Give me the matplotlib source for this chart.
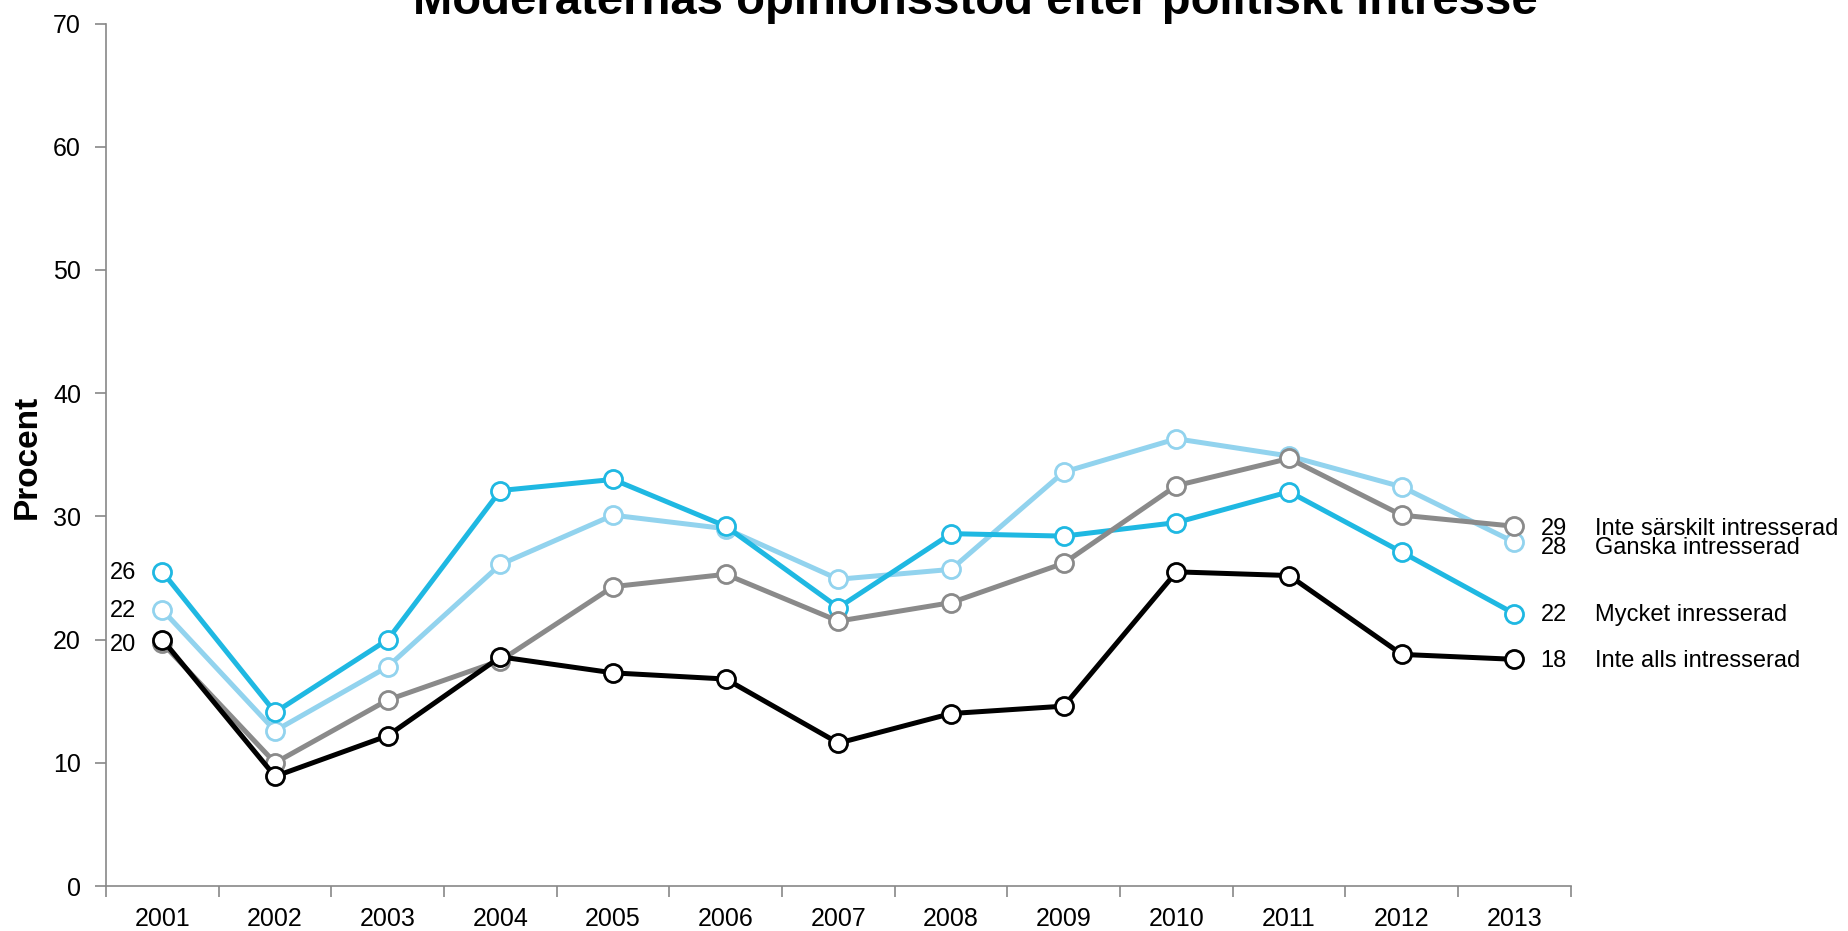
import matplotlib
matplotlib.use("Agg")
import matplotlib.pyplot as plt
import numpy as np

plt.rcParams['font.family'] = ['Liberation Sans', 'DejaVu Sans']

years = ["2001", "2002", "2003", "2004", "2005", "2006", "2007",
         "2008", "2009", "2010", "2011", "2012", "2013"]

# opinionsstöd per grupp (procent)
mycket = [25.5, 14.1, 20.0, 32.1, 33.0, 29.2, 22.6, 28.6, 28.4, 29.5, 32.0, 27.1, 22.1]
ganska = [22.4, 12.6, 17.8, 26.1, 30.1, 29.0, 24.9, 25.7, 33.6, 36.3, 34.9, 32.4, 27.9]
inte_sarskilt = [19.7, 10.0, 15.1, 18.3, 24.3, 25.3, 21.5, 23.0, 26.2, 32.5, 34.7, 30.1, 29.2]
inte_alls = [20.0, 8.9, 12.2, 18.6, 17.3, 16.8, 11.6, 14.0, 14.6, 25.5, 25.2, 18.8, 18.4]

names = ["Ganska intresserad", "Mycket inresserad",
         "Inte särskilt intresserad", "Inte alls intresserad"]
series = [ganska, mycket, inte_sarskilt, inte_alls]
colors = ["#92d3ee", "#1fb8e2", "#8a8a8a", "#000000"]

# etiketter till höger (text, y-läge)
end_text = ["28", "22", "29", "18"]
end_y = [27.4, 22.0, 29.0, 18.3]
# etiketter till vänster
start_text = ["26", "22", "20"]
start_y = [25.4, 22.3, 19.6]

fig = plt.figure(figsize=(18.48, 9.31), dpi=100)
ax = fig.add_axes([0.0574, 0.0483, 0.7926, 0.9264])

x = np.arange(1, len(years) + 1)
for vals, col in zip(series, colors):
    ax.plot(x, vals, color=col, lw=3.6, marker="o", ms=13,
            mfc="white", mec=col, mew=2.0, zorder=3)

for name, txt, yy in zip(names, end_text, end_y):
    ax.annotate(txt, (x[-1], yy), xytext=(26, 0), textcoords="offset pixels",
                ha="left", va="center", fontsize=17)
    ax.annotate(name, (x[-1], yy), xytext=(81, 0), textcoords="offset pixels",
                ha="left", va="center", fontsize=17, annotation_clip=False)

for txt, yy in zip(start_text, start_y):
    ax.annotate(txt, (x[0], yy), xytext=(-26, 0), textcoords="offset pixels",
                ha="right", va="center", fontsize=17)

ax.set_xlim(0.5, len(years) + 0.5)
ax.set_ylim(0, 70)
ax.set_yticks(range(0, 71, 10))
ax.set_xticks(x)
ax.set_xticklabels(years)
ax.set_xticks(np.arange(0.5, len(years) + 1, 1), minor=True)
ax.tick_params(axis="x", which="major", length=0, pad=15, labelsize=18)
ax.tick_params(axis="x", which="minor", length=8, width=1.2, color="#888888")
ax.tick_params(axis="y", length=8, width=1.2, color="#888888", pad=10, labelsize=18)

for s in ["top", "right"]:
    ax.spines[s].set_visible(False)
for s in ["left", "bottom"]:
    ax.spines[s].set_color("#888888")
    ax.spines[s].set_linewidth(1.2)

fig.text(0.0146, 0.509, "Procent", rotation=90, ha="center", va="center",
         fontsize=24, fontweight="bold")
fig.text(0.528, 0.985, "Moderaternas opinionsstöd efter politiskt intresse",
         ha="center", va="baseline", fontsize=34, fontweight="bold")

fig.savefig("out.png", dpi=100)
